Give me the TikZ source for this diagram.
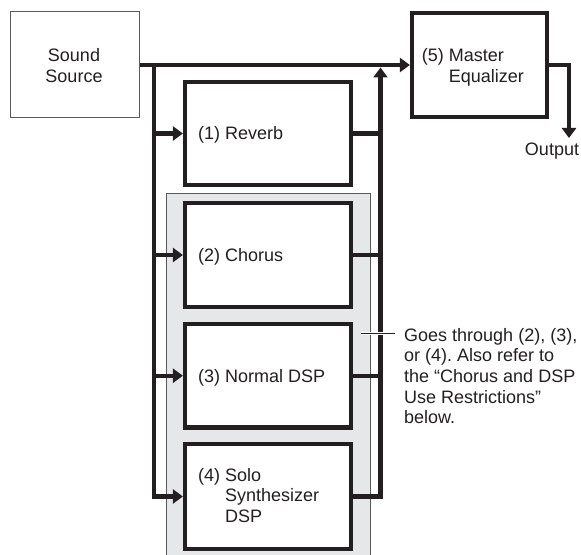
\documentclass[tikz,border=0pt]{standalone}
\usepackage{fontspec}
\setmainfont{Liberation Sans}
\usetikzlibrary{arrows.meta}
\definecolor{ink}{HTML}{231F20}
\definecolor{panel}{HTML}{E6E7E8}
\definecolor{rim}{HTML}{58595B}
\frenchspacing
\begin{document}
\begin{tikzpicture}[x=1bp,y=-1bp,
  lbl/.style={font=\fontsize{18bp}{20.7bp}\selectfont, inner sep=0pt, text=ink},
  fx/.style={draw=ink, line width=4.2bp, fill=white, inner sep=0pt, minimum width=166bp},
  thinbox/.style={draw=rim, line width=1bp, fill=white, inner sep=0pt},
  wire/.style={draw=ink, line width=4.4bp},
  arr/.style={wire, -{Triangle[length=10bp,width=14bp]}},
]
\useasboundingbox (0,0) rectangle (581,555);
% grey panel
\draw[rim, fill=panel, line width=1bp] (166,194) rectangle (370,580);
% boxes
\node[thinbox, minimum width=128bp, minimum height=106bp] (src) at (75,65) {};
\node[fx, minimum width=135bp, minimum height=104bp] (eq) at (479.5,65) {};
\node[fx, minimum height=103bp] (rev) at (268,133.5) {};
\node[fx, minimum height=104bp] (cho) at (268,255) {};
\node[fx, minimum height=103.5bp] (nor) at (268,375.75) {};
\node[fx, minimum height=105bp] (solo) at (268,496.5) {};
% wires
\coordinate (lbus) at (154,65);
\coordinate (rtop) at (380.5,67.5);
\coordinate (outtip) at (569,138);
\draw[arr] (src.east) -- (src.east -| eq.west);
\draw[arr] (lbus) |- (solo.west);
\draw[arr] (lbus |- rev.west) -- (rev.west);
\draw[arr] (lbus |- cho.west) -- (cho.west);
\draw[arr] (lbus |- nor.west) -- (nor.west);
\draw[arr] (solo.east) -| (rtop);
\draw[wire] (rev.east) -- (rev.east -| rtop);
\draw[wire] (cho.east) -- (cho.east -| rtop);
\draw[wire] (nor.east) -- (nor.east -| rtop);
\draw[arr] (eq.east) -| (outtip);
% labels
\node[lbl, anchor=base] (srct) at (74,61.7) {\begin{tabular}[t]{@{}c@{}}Sound\\Source\end{tabular}};
\node[lbl, anchor=base west] (eqt) at (421.7,61.7) {\begin{tabular}[t]{@{}l@{\ }l@{}}(5)&Master\\&Equalizer\end{tabular}};
\node[lbl, anchor=base west] (revt) at (198,140) {(1) Reverb};
\node[lbl, anchor=base west] (chot) at (198,261) {(2) Chorus};
\node[lbl, anchor=base west] (nort) at (198,382) {(3) Normal DSP};
\node[lbl, anchor=base west] (solot) at (198,481) {\begin{tabular}[t]{@{}l@{\ }l@{}}(4)&Solo\\&Synthesizer\\&DSP\end{tabular}};
\node[lbl, anchor=base] (outt) at (552,156) {Output};
\node[lbl, anchor=base west] (note) at (404,341) {\begin{tabular}[t]{@{}l@{}}Goes through (2), (3),\\or (4). Also refer to\\the “Chorus and DSP\\Use Restrictions”\\below.\end{tabular}};
% annotation tick
\coordinate (tickL) at (361,333);
\coordinate (tickR) at (395,333);
\draw[white, line width=3bp] (tickL) -- (tickR);
\draw[ink, line width=1bp] (tickL) -- (tickR);
\end{tikzpicture}
\end{document}
